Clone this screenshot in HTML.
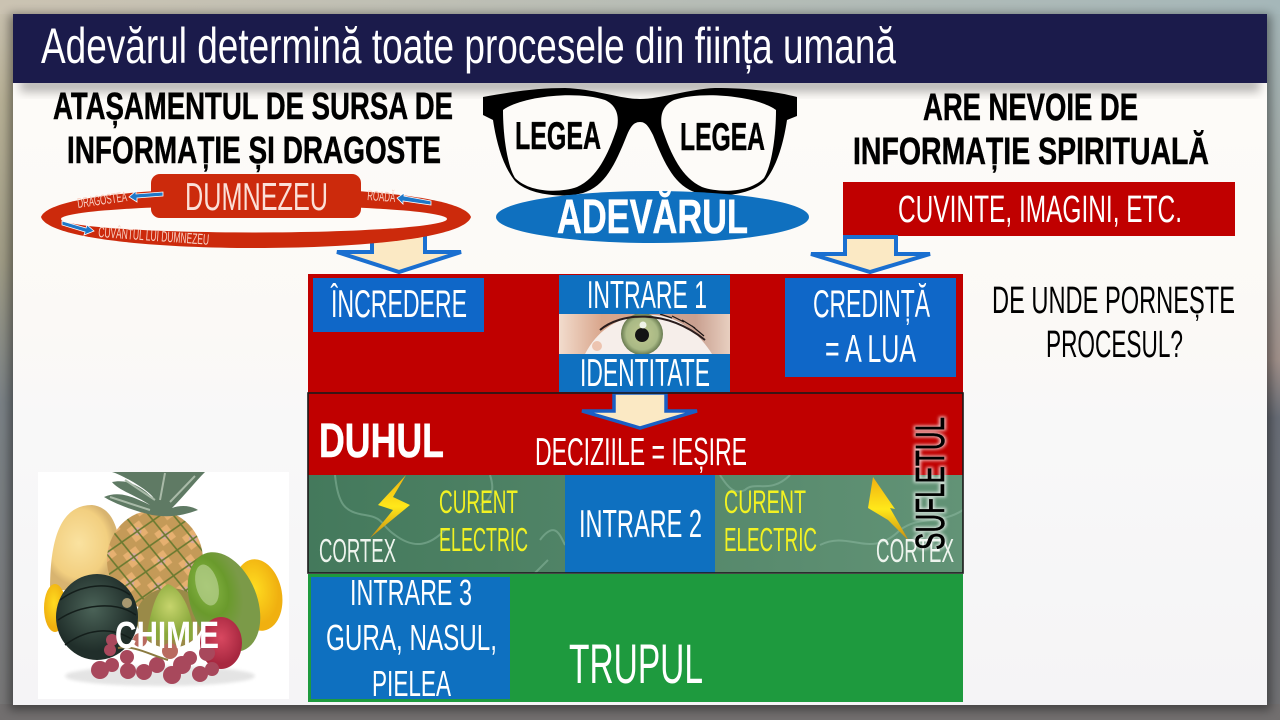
<!DOCTYPE html>
<html><head><meta charset="utf-8"><style>
html,body{margin:0;padding:0;width:1280px;height:720px;overflow:hidden;background:#777}
svg{display:block}
text{font-family:"Liberation Sans",sans-serif;fill:#fff}
.k{fill:#000}
.b{font-weight:bold;stroke-width:.5}
</style></head><body>
<svg width="1280" height="720" viewBox="0 0 1280 720" xmlns="http://www.w3.org/2000/svg">
<defs>
<linearGradient id="bgL" x1="0" y1="0" x2="0" y2="1"><stop offset="0" stop-color="#cbc3b2"/><stop offset=".14" stop-color="#b8b196"/><stop offset=".36" stop-color="#a09c86"/><stop offset=".56" stop-color="#7a8186"/><stop offset="1" stop-color="#777676"/></linearGradient>
<linearGradient id="bgR" x1="0" y1="0" x2="0" y2="1"><stop offset="0" stop-color="#a5b7b9"/><stop offset=".3" stop-color="#a0a6a2"/><stop offset=".5" stop-color="#a0908a"/><stop offset=".58" stop-color="#686d76"/><stop offset="1" stop-color="#727274"/></linearGradient>
<linearGradient id="bgH" x1="0" y1="0" x2="1" y2="0"><stop offset="0" stop-color="#cbc3b2"/><stop offset="1" stop-color="#a5b7b9"/></linearGradient>
<linearGradient id="slide" x1="0" y1="0" x2="0" y2="1"><stop offset="0" stop-color="#fefcf9"/><stop offset=".45" stop-color="#fbf9f6"/><stop offset=".6" stop-color="#f8f8f8"/><stop offset="1" stop-color="#f5f4f6"/></linearGradient>
<linearGradient id="grn" x1="0" y1="0" x2="1" y2="0"><stop offset="0" stop-color="#44795c"/><stop offset="1" stop-color="#629376"/></linearGradient>
<linearGradient id="bolt" x1="0" y1="0" x2="0" y2="1"><stop offset="0" stop-color="#f0b010"/><stop offset=".5" stop-color="#ffe81a"/><stop offset="1" stop-color="#c88a10"/></linearGradient>
<linearGradient id="skin" x1="0" y1="0" x2="1" y2="0"><stop offset="0" stop-color="#f2dccd"/><stop offset=".25" stop-color="#d9a68c"/><stop offset=".8" stop-color="#c9a090"/><stop offset="1" stop-color="#e8cfc0"/></linearGradient>
<radialGradient id="iris"><stop offset="0" stop-color="#c0c890"/><stop offset=".75" stop-color="#a9b985"/><stop offset="1" stop-color="#687a50"/></radialGradient>
<radialGradient id="sq" cx=".4" cy=".45"><stop offset="0" stop-color="#fae2a0"/><stop offset=".8" stop-color="#f2cf80"/><stop offset="1" stop-color="#d8b470"/></radialGradient>
<radialGradient id="ac" cx=".45" cy=".4"><stop offset="0" stop-color="#4b6358"/><stop offset="1" stop-color="#202e2a"/></radialGradient>
<radialGradient id="av" cx=".35" cy=".3"><stop offset="0" stop-color="#8ab848"/><stop offset=".6" stop-color="#6a9a2c"/><stop offset="1" stop-color="#7b9a48"/></radialGradient>
<radialGradient id="pr" cx=".5" cy=".4"><stop offset="0" stop-color="#c6d46c"/><stop offset="1" stop-color="#8aa83c"/></radialGradient>
<radialGradient id="yl" cx=".45" cy=".4"><stop offset="0" stop-color="#ffdc20"/><stop offset="1" stop-color="#f0b010"/></radialGradient>
<radialGradient id="ap" cx=".5" cy=".4"><stop offset="0" stop-color="#d84860"/><stop offset="1" stop-color="#a82840"/></radialGradient>
<pattern id="pp" width="28" height="26" patternUnits="userSpaceOnUse" patternTransform="rotate(8)">
<rect width="28" height="26" fill="#c49a58"/>
<path d="M14 2L25 13L14 24L3 13Z" fill="#e6b070"/>
<circle cx="14" cy="13" r="4" fill="#d8a8a0"/>
<path d="M0 0L28 26M28 0L0 26" stroke="#6a7a30" stroke-width="1.6"/>
</pattern>
<filter id="bl" x="-20%" y="-50%" width="140%" height="200%"><feGaussianBlur stdDeviation="5"/></filter>
<filter id="glow" x="-20%" y="-20%" width="140%" height="140%"><feGaussianBlur stdDeviation="1.5"/></filter>
<clipPath id="gc"><rect x="308" y="475" width="655" height="98"/></clipPath>
<clipPath id="ec"><rect x="559" y="314" width="171" height="40"/></clipPath>
<clipPath id="fc"><rect x="38" y="472" width="251" height="227"/></clipPath>
</defs>

<!-- backdrop -->
<rect width="640" height="720" fill="url(#bgL)"/>
<rect x="640" width="640" height="720" fill="url(#bgR)"/>
<rect width="1280" height="14" fill="url(#bgH)"/>
<rect x="0" y="704" width="1280" height="16" fill="#726f6f"/>

<!-- slide -->
<rect x="9" y="14" width="1262" height="696" fill="#000" opacity=".4" filter="url(#bl)"/>
<rect x="13" y="14" width="1254" height="691" fill="url(#slide)"/>
<rect x="20" y="78" width="1240" height="14" fill="#000" opacity=".28" filter="url(#bl)"/>
<rect x="13" y="14" width="1254" height="69" fill="#1b1b4b"/>
<text x="41" y="63" font-size="50" textLength="855" lengthAdjust="spacingAndGlyphs">Adevărul determină toate procesele din ființa umană</text>

<!-- headings -->
<text class="k b" stroke="#000" x="53" y="119" font-size="38" textLength="400" lengthAdjust="spacingAndGlyphs">ATAȘAMENTUL DE SURSA DE</text>
<text class="k b" stroke="#000" x="67" y="163" font-size="38" textLength="374" lengthAdjust="spacingAndGlyphs">INFORMAȚIE ȘI DRAGOSTE</text>
<text class="k b" stroke="#000" x="923" y="120" font-size="38" textLength="215" lengthAdjust="spacingAndGlyphs">ARE NEVOIE DE</text>
<text class="k b" stroke="#000" x="853" y="164" font-size="38" textLength="356" lengthAdjust="spacingAndGlyphs">INFORMAȚIE SPIRITUALĂ</text>

<!-- arrow left (behind ring) -->
<path d="M372 232V252H337L399 272L461 252H425V232Z" fill="#fbe9c4" stroke="#1a6fd0" stroke-width="4"/>

<!-- ring -->
<path d="M41 217C48 197 150 188 256 188C362 188 464 197 471 217C464 238 362 248 256 248C150 248 48 238 41 217Z" fill="#cc2a0c"/>
<ellipse cx="254" cy="219" rx="193" ry="13.5" fill="#fdfbf8"/>
<rect x="151" y="174" width="210" height="44" rx="9" fill="#cc2a0c"/>
<text x="185" y="210" font-size="39" textLength="143" lengthAdjust="spacingAndGlyphs" style="fill:#fbe0d8">DUMNEZEU</text>
<text transform="translate(78,208) rotate(-8)" font-size="14" textLength="50" lengthAdjust="spacingAndGlyphs" style="fill:#f8d0c4">DRAGOSTEA</text>
<text transform="translate(367,200) rotate(4)" font-size="14" textLength="28" lengthAdjust="spacingAndGlyphs" style="fill:#f8d0c4">ROADĂ</text>
<text transform="translate(98,237) rotate(4)" font-size="15" textLength="111" lengthAdjust="spacingAndGlyphs" style="fill:#f8d0c4">CUVÂNTUL LUI DUMNEZEU</text>
<g fill="#1f78c8" stroke="#fff" stroke-width=".8">
<path d="M163 192L136 194V191L129 197L137 202V198L163 196Z"/>
<path d="M431 201L404 196V193L397 198L403 204V201L431 205Z"/>
<path d="M62 221L86 228L87 225L94 231L84 235L85 232L62 225Z"/>
</g>

<!-- glasses -->
<path d="M483 97C515 91 540 88 565 88C595 89 620 99 640 99C660 99 690 89 715 88C745 88 775 91 797 97V116L787 120C784 140 778 165 765 181C750 196 715 198 697 193C675 186 665 165 653 135C648 125 645 122 640 122C635 122 631 125 627 135C615 165 605 186 583 193C565 198 530 196 515 181C502 165 496 140 493 120L483 115Z" fill="#000"/>
<path d="M503 110C520 97 575 90 605 100C618 106 619 118 617 128C608 155 597 178 577 187C560 193 530 193 515 178C507 165 503 135 503 110Z" fill="#fdfbf8"/>
<path d="M776 110C759 97 704 90 674 100C661 106 660 118 662 128C671 155 682 178 702 187C719 193 749 193 764 178C772 165 776 135 776 110Z" fill="#fdfbf8"/>
<text class="k b" stroke="#000" x="515" y="149" font-size="39" textLength="86" lengthAdjust="spacingAndGlyphs">LEGEA</text>
<text class="k b" stroke="#000" x="680" y="150" font-size="39" textLength="85" lengthAdjust="spacingAndGlyphs">LEGEA</text>

<!-- adevarul -->
<ellipse cx="652.5" cy="217" rx="156.5" ry="26" fill="#0f70bf"/>
<text class="b" stroke="#fff" x="557" y="233" font-size="48" textLength="191" lengthAdjust="spacingAndGlyphs">ADEVĂRUL</text>

<!-- cuvinte -->
<rect x="843" y="182" width="392" height="54" fill="#c00000"/>
<text x="898" y="222" font-size="38" textLength="284" lengthAdjust="spacingAndGlyphs">CUVINTE, IMAGINI, ETC.</text>
<path d="M845 237V254H811L870 272L930 254H896V237Z" fill="#fbe9c4" stroke="#1a6fd0" stroke-width="4"/>

<!-- top red -->
<rect x="308" y="274" width="655" height="119" fill="#c00000"/>
<rect x="313" y="278" width="171" height="54" fill="#0f67c8"/>
<text x="331" y="317" font-size="39" textLength="136" lengthAdjust="spacingAndGlyphs">ÎNCREDERE</text>
<rect x="559" y="275" width="171" height="39" fill="#0e70c0"/>
<text x="587" y="308" font-size="39" textLength="120" lengthAdjust="spacingAndGlyphs">INTRARE 1</text>

<!-- eye -->
<g clip-path="url(#ec)">
<rect x="559" y="314" width="171" height="40" fill="url(#skin)"/>
<path d="M585 354C600 325 625 315 650 315C680 315 700 335 712 354Z" fill="#f6eeea"/>
<circle cx="642" cy="334" r="21" fill="url(#iris)"/>
<circle cx="642" cy="335" r="7" fill="#141414"/>
<circle cx="643" cy="325" r="3.5" fill="#fff" opacity=".8"/>
<path d="M600 330C620 313 665 308 705 340" fill="none" stroke="#2a1c1c" stroke-width="2"/>
<path d="M660 314L672 318M672 316L684 322M682 320L695 328M692 326L704 336" stroke="#1c1414" stroke-width="1.2"/>
<circle cx="597" cy="346" r="5" fill="#edc4b0"/>
</g>
<rect x="559" y="354" width="171" height="38" fill="#0e70c0"/>
<text x="580" y="386" font-size="39" textLength="130" lengthAdjust="spacingAndGlyphs">IDENTITATE</text>

<rect x="785" y="278" width="171" height="99" fill="#0f67c8"/>
<text x="813" y="317" font-size="39" textLength="117" lengthAdjust="spacingAndGlyphs">CREDINȚĂ</text>
<text x="825" y="362" font-size="39" textLength="91" lengthAdjust="spacingAndGlyphs">= A LUA</text>

<!-- question -->
<text class="k" x="992" y="313" font-size="38" textLength="243" lengthAdjust="spacingAndGlyphs">DE UNDE PORNEȘTE</text>
<text class="k" x="1046" y="357" font-size="38" textLength="137" lengthAdjust="spacingAndGlyphs">PROCESUL?</text>

<!-- duhul -->
<rect x="308" y="393" width="655" height="82" fill="#c00000"/>
<path d="M614 393V411H582L640 428L697 411H666V393Z" fill="#fbe9c4" stroke="#1a5fc4" stroke-width="3.5"/>
<text class="b" stroke="#fff" x="319" y="457" font-size="48" textLength="125" lengthAdjust="spacingAndGlyphs">DUHUL</text>
<text x="535" y="465" font-size="39" textLength="212" lengthAdjust="spacingAndGlyphs">DECIZIILE = IEȘIRE</text>

<!-- green band -->
<rect x="308" y="475" width="655" height="98" fill="url(#grn)"/>
<g clip-path="url(#gc)" fill="none" stroke="#8fbba3" stroke-width="2" opacity=".5">
<path d="M335 475C338 505 345 512 365 515C385 518 380 525 395 535C415 550 430 545 445 530"/>
<path d="M490 475C495 490 492 500 480 505"/>
<path d="M540 540C555 520 560 535 565 545M535 573L548 560"/>
<path d="M720 475C728 488 735 495 745 490C755 480 770 495 790 475"/>
<path d="M820 545C850 530 870 560 900 530C920 515 940 525 963 510"/>
</g>
<polygon points="406,475 378,505 393,510 370,538 410,505 393,497" fill="url(#bolt)"/>
<polygon points="873,477 868,508 888,520 909,541 890,508 895,509" fill="url(#bolt)"/>
<rect x="565" y="475" width="150" height="98" fill="#0e70c0"/>
<text x="579" y="537" font-size="39" textLength="123" lengthAdjust="spacingAndGlyphs">INTRARE 2</text>
<text x="439" y="513" font-size="32" textLength="79" lengthAdjust="spacingAndGlyphs" style="fill:#f2f222">CURENT</text>
<text x="439" y="551" font-size="33" textLength="89" lengthAdjust="spacingAndGlyphs" style="fill:#f2f222">ELECTRIC</text>
<text x="724" y="513" font-size="32" textLength="82" lengthAdjust="spacingAndGlyphs" style="fill:#f2f222">CURENT</text>
<text x="724" y="551" font-size="33" textLength="93" lengthAdjust="spacingAndGlyphs" style="fill:#f2f222">ELECTRIC</text>
<text x="319" y="562" font-size="33" textLength="77" lengthAdjust="spacingAndGlyphs" style="fill:#eef4ee">CORTEX</text>
<text x="876" y="562" font-size="33" textLength="78" lengthAdjust="spacingAndGlyphs" style="fill:#eef4ee">CORTEX</text>
<rect x="308" y="393" width="655" height="180" fill="none" stroke="#1a1a1a" stroke-width="1.6"/>

<!-- sufletul -->
<text transform="translate(944,550) rotate(-90)" font-size="41" textLength="133" lengthAdjust="spacingAndGlyphs" style="fill:#fff;stroke:#fff;stroke-width:4;opacity:.75" filter="url(#glow)">SUFLETUL</text>
<text transform="translate(944,550) rotate(-90)" font-size="41" textLength="133" lengthAdjust="spacingAndGlyphs" style="fill:#000;stroke:#000;stroke-width:.6">SUFLETUL</text>

<!-- body -->
<rect x="308" y="574" width="655" height="128" fill="#1e9a3e"/>
<rect x="311" y="577" width="199" height="122" fill="#0e70c0"/>
<text x="350" y="605" font-size="36" textLength="122" lengthAdjust="spacingAndGlyphs">INTRARE 3</text>
<text x="326" y="650" font-size="36" textLength="171" lengthAdjust="spacingAndGlyphs">GURA, NASUL,</text>
<text x="372" y="696" font-size="36" textLength="79" lengthAdjust="spacingAndGlyphs">PIELEA</text>
<text x="569" y="683" font-size="56" textLength="134" lengthAdjust="spacingAndGlyphs">TRUPUL</text>

<!-- fruit -->
<rect x="38" y="472" width="251" height="227" fill="#fff"/>
<g clip-path="url(#fc)">
<ellipse cx="160" cy="676" rx="95" ry="10" fill="#e4e4e4" filter="url(#glow)"/>
<path d="M50 590C50 540 60 505 92 505C118 508 122 540 122 590Z" fill="url(#sq)"/>
<ellipse cx="55" cy="608" rx="11" ry="24" fill="url(#yl)"/>
<ellipse cx="258" cy="595" rx="24" ry="36" fill="url(#yl)" transform="rotate(-10 258 595)"/>
<ellipse cx="155" cy="560" rx="48" ry="50" fill="url(#pp)"/>
<ellipse cx="170" cy="618" rx="34" ry="30" fill="#9a8a48"/>
<g fill="#5f7a64">
<path d="M152 515C130 510 112 502 104 497C120 490 135 498 150 505C135 495 118 490 112 482C130 478 145 490 155 500C150 490 120 474 112 472H205C195 482 185 495 172 508C180 505 190 505 198 510C185 515 170 518 152 515Z"/>
</g>
<path d="M125 480L155 500M165 473L160 500M195 476L170 502M110 497L150 510" stroke="#a9baa8" stroke-width="2" fill="none"/>
<ellipse cx="97" cy="617" rx="41" ry="43" fill="url(#ac)"/>
<g stroke="#141e1b" stroke-width="1.5" fill="none"><path d="M60 600C80 585 110 580 130 595M58 620C80 605 115 600 136 615M65 645C85 630 110 625 133 640"/></g>
<circle cx="127" cy="603" r="5" fill="#a89870"/>
<path d="M168 584C185 590 194 620 194 640H146C150 615 155 590 168 584Z" fill="url(#pr)"/>
<ellipse cx="224" cy="602" rx="33" ry="52" fill="url(#av)" transform="rotate(-22 224 602)"/>
<ellipse cx="207" cy="585" rx="11" ry="21" fill="#b8d090" opacity=".7" transform="rotate(-15 207 585)"/>
<ellipse cx="221" cy="643" rx="21" ry="26" fill="url(#ap)"/>
<g fill="#a8485c">
<circle cx="100" cy="670" r="9"/><circle cx="112" cy="665" r="7"/><circle cx="128" cy="671" r="8"/><circle cx="144" cy="672" r="8"/><circle cx="157" cy="665" r="8"/><circle cx="172" cy="675" r="9"/><circle cx="182" cy="665" r="9"/><circle cx="200" cy="674" r="8"/><circle cx="212" cy="669" r="7"/><circle cx="127" cy="657" r="7"/><circle cx="207" cy="653" r="8"/><circle cx="190" cy="658" r="7"/><circle cx="112" cy="640" r="6"/><circle cx="110" cy="650" r="6"/><circle cx="170" cy="651" r="8" fill="#b96a60"/><circle cx="140" cy="640" r="7" fill="#b96a60"/>
</g>
<path d="M118 648C135 645 150 655 168 660" stroke="#8a7a40" stroke-width="2" fill="none"/>
</g>
<text x="115" y="648" font-size="38" font-weight="bold" textLength="104" lengthAdjust="spacingAndGlyphs">CHIMIE</text>
</svg>
</body></html>
